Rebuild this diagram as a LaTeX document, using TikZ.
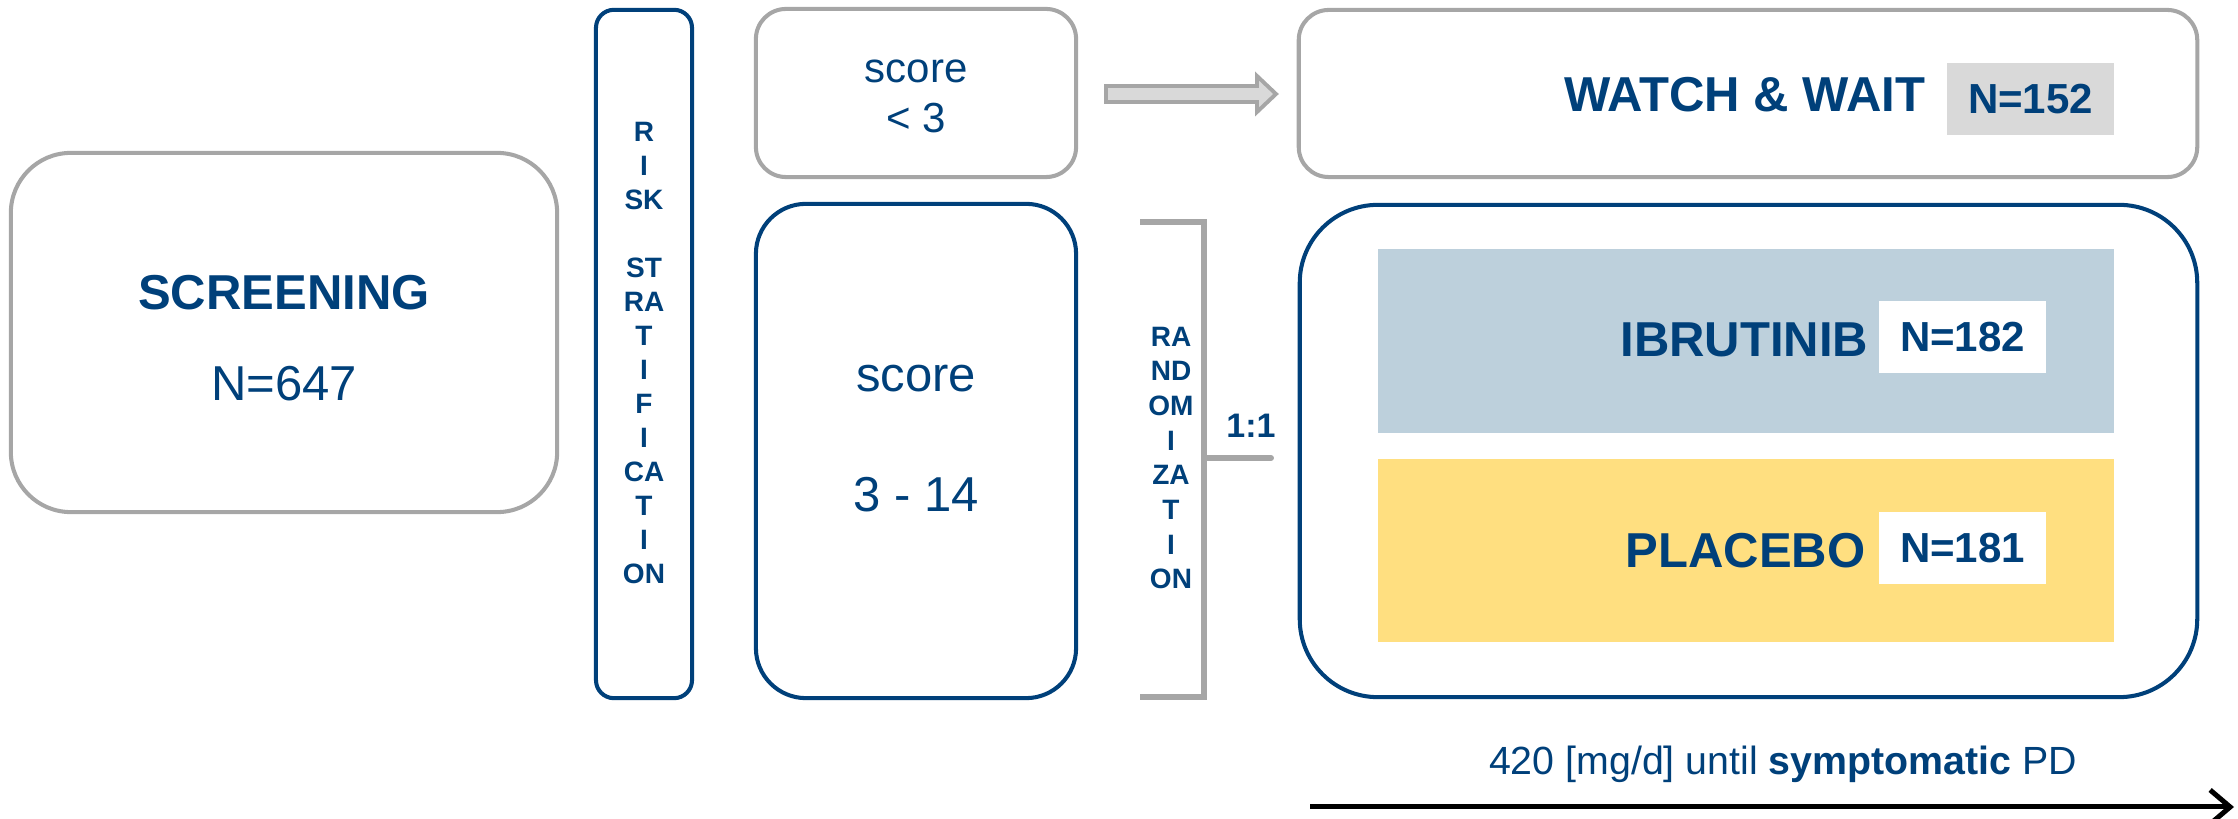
\documentclass[tikz,border=0pt]{standalone}
\usepackage{fontspec}
\setmainfont{Liberation Sans}
\usetikzlibrary{arrows.meta}
\definecolor{navy}{RGB}{0,64,122}
\definecolor{boxgrey}{RGB}{166,166,166}
\definecolor{fillgrey}{RGB}{217,217,217}
\definecolor{ibru}{RGB}{189,208,220}
\definecolor{plac}{RGB}{255,223,128}
\tikzset{
  greybox/.style={draw=boxgrey, line width=1.15pt, inner sep=0pt},
  bluebox/.style={draw=navy, line width=1.15pt, inner sep=0pt},
  txt/.style={text=navy, inner sep=0pt},
  bigfont/.style={font=\fontsize{13.94pt}{16pt}\selectfont},
  bigbold/.style={font=\fontsize{13.94pt}{16pt}\selectfont\bfseries},
  midfont/.style={font=\fontsize{11.95pt}{14pt}\selectfont},
  nbold/.style={font=\fontsize{11.95pt}{14pt}\selectfont\bfseries},
  nbox/.style={minimum width=1.67cm, minimum height=0.72cm, inner sep=0pt, text=navy, nbold},
  vert/.style={text=navy, inner sep=0pt, align=center},
  bracket/.style={draw=boxgrey, line width=1.7pt},
}
\begin{document}
\begin{tikzpicture}[x=0.01cm, y=-0.01cm]
\useasboundingbox (0,0) rectangle (2238,819);

% Screening
\node[greybox, rounded corners=0.6cm, minimum width=5.46cm, minimum height=3.59cm] (scr) at (284,332.5) {};
\node[txt, bigbold] (scrT) at (284,293) {SCREENING};
\node[txt, bigfont] (scrN) at (284,384) {N=647};

% Risk stratification
\node[bluebox, rounded corners=0.18cm, minimum width=0.96cm, minimum height=6.88cm] (risk) at (644,354) {};
\node[vert, font=\fontsize{7.97pt}{9.67pt}\selectfont\bfseries] (riskT) at (644,353)
  {R\\I\\SK\\\mbox{}\\ST\\RA\\T\\I\\F\\I\\CA\\T\\I\\ON};

% score < 3
\node[greybox, rounded corners=0.3cm, minimum width=3.2cm, minimum height=1.68cm] (low) at (916,93) {};
\node[txt, midfont] (lowA) at (916,71) {score};
\node[txt, midfont] (lowB) at (916,118) {< 3};

% score 3 - 14
\node[bluebox, rounded corners=0.5cm, minimum width=3.2cm, minimum height=4.94cm] (high) at (916,451) {};
\node[txt, bigfont] (highA) at (916,379) {score};
\node[txt, bigfont] (highB) at (916,495) {3 - 14};

% block arrow
\draw[draw=boxgrey, fill=fillgrey, line width=1.1pt, line join=miter]
  (1106,86) -- (1257,86) -- (1257,76) -- (1276,94) -- (1257,112) -- (1257,102) -- (1106,102) -- cycle;

% Watch & wait
\node[greybox, rounded corners=0.3cm, minimum width=8.98cm, minimum height=1.67cm] (ww) at (1748,93.5) {};
\node[txt, bigbold, anchor=east] (wwT) at (1926,95) {WATCH \& WAIT};
\node[nbox, fill=fillgrey] (wwN) at (2030.5,99) {N=152};

% Randomization bracket
\coordinate (bt) at (1140,222);
\coordinate (btc) at (1204,222);
\coordinate (bbc) at (1204,697);
\coordinate (bb) at (1140,697);
\coordinate (bm) at (1204,458);
\coordinate (bk) at (1271,458);
\draw[bracket] (bt) -- (btc) -- (bbc) -- (bb);
\draw[bracket, line cap=round] (bm) -- (bk);
\node[txt, font=\fontsize{9.67pt}{11pt}\selectfont\bfseries] (ratio) at (1251,426) {1:1};
\node[vert, font=\fontsize{7.97pt}{9.84pt}\selectfont\bfseries] (randT) at (1171,458)
  {RA\\ND\\OM\\I\\ZA\\T\\I\\ON};

% Arms
\node[bluebox, rounded corners=0.78cm, minimum width=8.97cm, minimum height=4.92cm] (arms) at (1748.5,451) {};
\node[fill=ibru, inner sep=0pt, minimum width=7.36cm, minimum height=1.84cm] (ib) at (1746,341) {};
\node[fill=plac, inner sep=0pt, minimum width=7.36cm, minimum height=1.83cm] (pl) at (1746,550.5) {};
\node[txt, bigbold, anchor=east] (ibT) at (1869,340) {IBRUTINIB};
\node[nbox, fill=white] (ibN) at (1962.5,337) {N=182};
\node[txt, bigbold, anchor=east] (plT) at (1866,551) {PLACEBO};
\node[nbox, fill=white] (plN) at (1962.5,548) {N=181};

% Timeline
\node[txt, font=\fontsize{11.18pt}{13pt}\selectfont] (dose) at (1783,764) {420 [mg/d] until \textbf{symptomatic} PD};
\coordinate (ta) at (1310,807);
\coordinate (tb) at (2234,807);
\draw[line width=1.42pt, -{Straight Barb[length=0.2cm, width=0.34cm]}] (ta) -- (tb);
\end{tikzpicture}
\end{document}
